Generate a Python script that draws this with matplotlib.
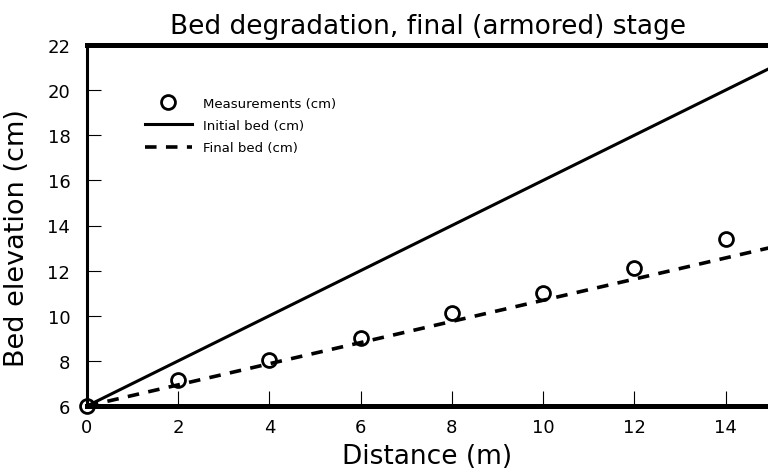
import numpy as np
import matplotlib
matplotlib.use("Agg")
import matplotlib.pyplot as plt

# measured bed elevations along the flume
dist = [0, 2, 4, 6, 8, 10, 12, 14]
meas = [6.0, 7.15, 8.05, 9.0, 10.1, 11.0, 12.1, 13.4]

# initial and final bed profiles (straight lines)
bed_x = [0, 15]
initial_bed = [6, 21]
final_bed = [6, 13.03]

plt.rcParams['font.family'] = 'DejaVu Sans'

fig = plt.figure(figsize=(7.68, 4.77), dpi=100)
ax = fig.add_axes([87/768, 1 - 407/477, 1 - 87/768, (407 - 46)/477])

ax.plot(bed_x, initial_bed, color='black', lw=2.2, label='Initial bed (cm)')
ax.plot(bed_x, final_bed, color='black', lw=2.6, dashes=(3.2, 2.6),
        label='Final bed (cm)')
ax.plot(dist, meas, 'o', mfc='none', mec='black', ms=10, mew=2,
        clip_on=False, zorder=5, label='Measurements (cm)')

ax.set_xlim(0, 14.93)
ax.set_ylim(6, 22)
ax.set_xticks(np.arange(0, 15, 2))
ax.set_yticks(np.arange(6, 23, 2))

for s in ['top', 'bottom']:
    ax.spines[s].set_linewidth(3.6)
ax.spines['left'].set_linewidth(2.2)
ax.spines['right'].set_visible(False)

ax.tick_params(axis='y', direction='in', length=10, width=0.8,
               labelsize=13, pad=12)
ax.tick_params(axis='x', direction='in', length=11, width=0.8,
               labelsize=13, pad=9)

ax.set_xlabel('Distance (m)', fontsize=19, labelpad=5)
ax.set_ylabel('Bed elevation (cm)', fontsize=19.5)
ax.yaxis.set_label_coords(-0.083, 0.468)
ax.set_title('Bed degradation, final (armored) stage', fontsize=19, pad=9)

h, l = ax.get_legend_handles_labels()
order = [2, 0, 1]
ax.legend([h[i] for i in order], [l[i] for i in order],
          loc='upper left', bbox_to_anchor=(0.075, 0.875), frameon=False,
          fontsize=9.5, handlelength=3.6, labelspacing=0.7, borderpad=0,
          handletextpad=0.8)

fig.savefig('out.png', dpi=100)
